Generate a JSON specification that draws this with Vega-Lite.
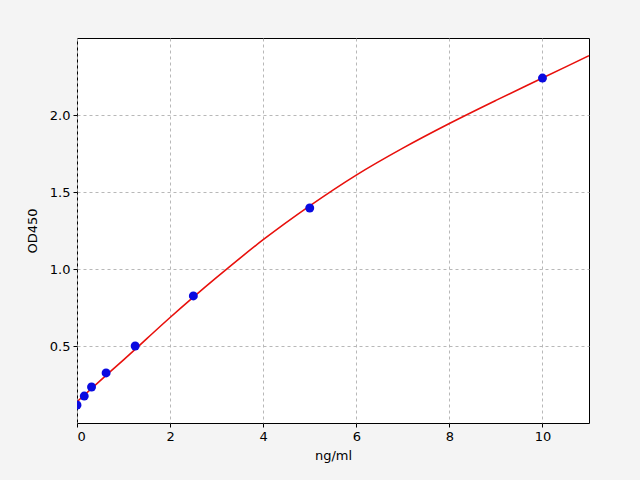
{
  "$schema": "https://vega.github.io/schema/vega-lite/v6.json",
  "autosize": {"type": "none"},
  "width": 512,
  "height": 385,
  "padding": {"left": 77, "top": 38, "right": 51, "bottom": 57},
  "background": "#f4f4f4",
  "config": {
    "view": {"fill": "white", "stroke": "black", "strokeWidth": 1},
    "font": "DejaVu Sans",
    "axis": {
      "labelFont": "DejaVu Sans",
      "titleFont": "DejaVu Sans",
      "labelFontSize": 13,
      "titleFontSize": 13,
      "labelColor": "black",
      "titleColor": "black",
      "titleFontWeight": "normal",
      "tickColor": "black",
      "tickSize": 4,
      "domain": false,
      "grid": true,
      "gridColor": "#b0b0b0",
      "gridDash": [3, 3],
      "gridWidth": 0.9,
      "labelPadding": 3
    }
  },
  "datasets": {
    "standards": [
      {"conc": 0, "od": 0.117},
      {"conc": 0.156, "od": 0.175},
      {"conc": 0.3125, "od": 0.234},
      {"conc": 0.625, "od": 0.325},
      {"conc": 1.25, "od": 0.5},
      {"conc": 2.5, "od": 0.825},
      {"conc": 5, "od": 1.396},
      {"conc": 10, "od": 2.24}
    ],
    "fit": [
      {"conc": 0, "od": 0.138},
      {"conc": 0.5, "od": 0.275},
      {"conc": 1, "od": 0.41},
      {"conc": 1.5, "od": 0.548},
      {"conc": 2, "od": 0.685},
      {"conc": 2.5, "od": 0.817},
      {"conc": 3, "od": 0.945},
      {"conc": 4, "od": 1.19},
      {"conc": 5, "od": 1.41},
      {"conc": 6, "od": 1.61},
      {"conc": 7, "od": 1.785},
      {"conc": 8, "od": 1.945},
      {"conc": 9, "od": 2.095},
      {"conc": 10, "od": 2.24},
      {"conc": 11, "od": 2.385}
    ]
  },
  "encoding": {
    "x": {
      "field": "conc",
      "type": "quantitative",
      "title": "ng/ml",
      "scale": {"domain": [0, 11], "nice": false, "zero": false},
      "axis": {"values": [0, 2, 4, 6, 8, 10], "format": "d", "titlePadding": 6}
    },
    "y": {
      "field": "od",
      "type": "quantitative",
      "title": "OD450",
      "scale": {"domain": [0, 2.5], "nice": false, "zero": false},
      "axis": {"values": [0.5, 1.0, 1.5, 2.0], "format": ".1f", "titlePadding": 10}
    }
  },
  "layer": [
    {
      "data": {"name": "fit"},
      "mark": {"type": "line", "color": "#e8100c", "strokeWidth": 1.6, "interpolate": "monotone", "clip": true}
    },
    {
      "data": {"name": "standards"},
      "mark": {"type": "point", "filled": true, "color": "#0a0ae0", "opacity": 1, "size": 80, "clip": true}
    }
  ]
}
